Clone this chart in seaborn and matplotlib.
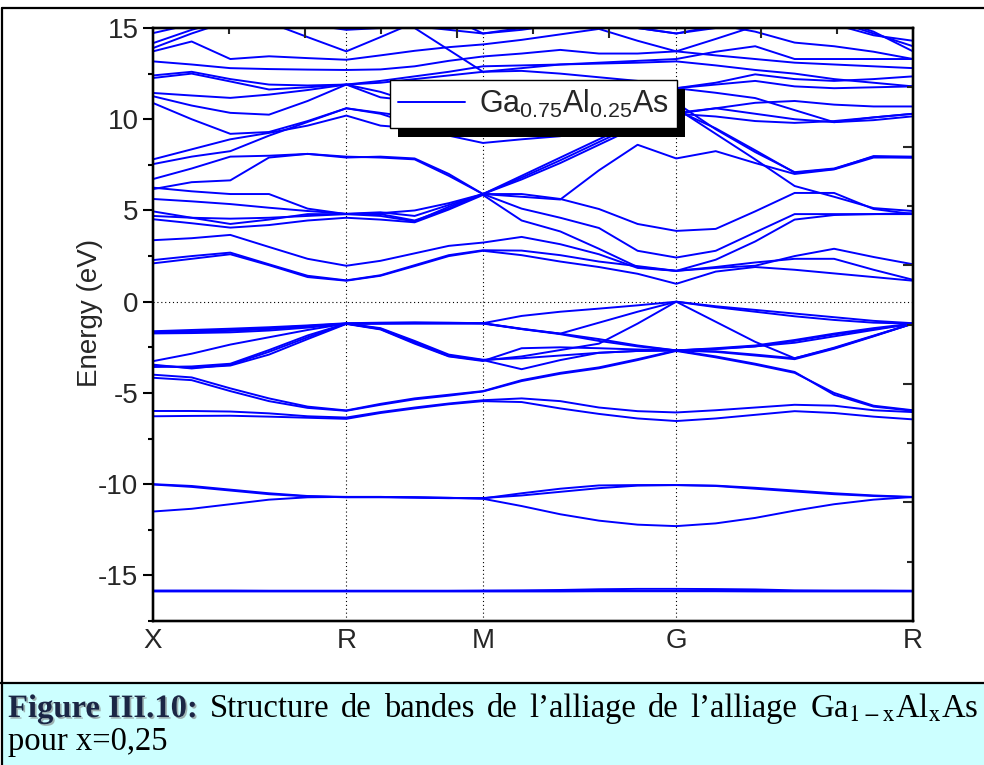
import numpy as np
import pandas as pd
import matplotlib
matplotlib.use("Agg")
import matplotlib.pyplot as plt
import matplotlib.patheffects as pe
from matplotlib.lines import Line2D
from matplotlib.patches import Rectangle
from matplotlib.ticker import MultipleLocator
import seaborn as sns

# ---- k-path through the simple-cubic Brillouin zone -------------------------
path_labels = ["X", "R", "M", "G", "R"]
path_coords = [(0.5, 0.0, 0.0), (0.5, 0.5, 0.5), (0.5, 0.5, 0.0),
               (0.0, 0.0, 0.0), (0.5, 0.5, 0.5)]
segment_steps = [5, 4, 5, 6]          # k-intervals on X-R, R-M, M-G, G-R

# ---- band energies (eV) at the 21 k-nodes ------------------------------------
# Ga 3d semicore states
ga_3d = [
    [-15.85, -15.85, -15.85, -15.85, -15.85, -15.85, -15.85, -15.85, -15.85, -15.85,
     -15.85, -15.85, -15.85, -15.85, -15.85, -15.85, -15.85, -15.85, -15.85, -15.85, -15.85],
    [-15.83, -15.83, -15.83, -15.84, -15.84, -15.84, -15.84, -15.84, -15.84, -15.83,
     -15.82, -15.80, -15.76, -15.74, -15.74, -15.75, -15.77, -15.82, -15.83, -15.83, -15.84],
    [-15.88, -15.88, -15.88, -15.88, -15.88, -15.88, -15.88, -15.88, -15.88, -15.88,
     -15.88, -15.88, -15.87, -15.87, -15.87, -15.87, -15.88, -15.88, -15.88, -15.88, -15.88],
]

# As 4s-like lower valence bands
as_4s = [
    [-11.50, -11.35, -11.10, -10.85, -10.72, -10.70, -10.70, -10.72, -10.75, -10.80,
     -11.20, -11.65, -12.00, -12.22, -12.30, -12.15, -11.85, -11.45, -11.10, -10.85, -10.70],
    [-10.00, -10.10, -10.30, -10.50, -10.65, -10.70, -10.70, -10.72, -10.75, -10.78,
     -10.50, -10.25, -10.07, -10.05, -10.05, -10.08, -10.20, -10.35, -10.50, -10.62, -10.70],
    [-10.02, -10.15, -10.35, -10.55, -10.67, -10.72, -10.72, -10.74, -10.77, -10.76,
     -10.62, -10.42, -10.22, -10.08, -10.05, -10.10, -10.25, -10.40, -10.55, -10.65, -10.72],
]

# p-like upper valence bands
valence_p = [
    [-1.62, -1.55, -1.48, -1.40, -1.30, -1.18, -1.15, -1.13, -1.15, -1.18,
     -0.78, -0.55, -0.38, -0.20, 0.00, -0.25, -0.45, -0.65, -0.85, -1.05, -1.18],
    [-1.66, -1.62, -1.55, -1.45, -1.33, -1.20, -1.18, -1.17, -1.17, -1.18,
     -1.50, -1.75, -1.15, -0.55, 0.00, -0.30, -0.55, -0.80, -1.00, -1.15, -1.20],
    [-1.70, -1.66, -1.60, -1.50, -1.36, -1.20, -1.20, -1.18, -1.18, -1.18,
     -1.48, -1.75, -2.05, -2.40, -2.67, -2.55, -2.40, -2.10, -1.75, -1.45, -1.20],
    [-1.74, -1.72, -1.68, -1.58, -1.42, -1.22, -1.20, -1.20, -1.20, -1.20,
     -1.50, -1.78, -2.15, -2.45, -2.67, -2.58, -2.45, -2.15, -1.80, -1.50, -1.22],
    [-3.26, -2.85, -2.35, -1.95, -1.55, -1.20, -1.48, -2.20, -2.95, -3.22,
     -3.00, -2.65, -2.30, -1.20, 0.00, -1.10, -2.20, -3.10, -2.55, -1.88, -1.20],
    [-3.45, -3.66, -3.45, -2.75, -1.95, -1.20, -1.50, -2.25, -2.98, -3.20,
     -3.70, -3.20, -2.80, -2.70, -2.67, -2.75, -2.95, -3.15, -2.58, -1.90, -1.20],
    [-3.50, -3.62, -3.50, -2.90, -2.05, -1.22, -1.52, -2.30, -3.00, -3.25,
     -2.55, -2.50, -2.55, -2.62, -2.67, -2.72, -2.90, -3.10, -2.52, -1.86, -1.20],
    [-3.58, -3.55, -3.40, -2.65, -1.85, -1.20, -1.45, -2.15, -2.90, -3.18,
     -3.10, -2.95, -2.80, -2.70, -2.67, -2.60, -2.45, -2.25, -1.90, -1.55, -1.20],
    [-4.00, -4.15, -4.75, -5.30, -5.75, -5.96, -5.60, -5.30, -5.10, -4.90,
     -4.30, -3.90, -3.60, -3.15, -2.67, -3.00, -3.40, -3.85, -5.10, -5.75, -5.98],
    [-4.17, -4.30, -4.90, -5.45, -5.82, -5.98, -5.65, -5.35, -5.15, -4.92,
     -4.35, -3.95, -3.65, -3.20, -2.70, -3.05, -3.45, -3.90, -5.00, -5.70, -5.95],
    [-5.99, -5.99, -6.02, -6.12, -6.28, -6.35, -6.05, -5.80, -5.58, -5.40,
     -5.30, -5.45, -5.80, -6.00, -6.07, -5.95, -5.80, -5.65, -5.70, -5.95, -6.05],
    [-6.28, -6.26, -6.25, -6.30, -6.36, -6.42, -6.10, -5.85, -5.62, -5.45,
     -5.50, -5.85, -6.15, -6.40, -6.54, -6.40, -6.20, -6.00, -6.10, -6.30, -6.45],
]

# conduction bands, lowest group
conduction_low = [
    [2.10, 2.35, 2.60, 2.00, 1.35, 1.15, 1.42, 1.95, 2.50, 2.79,
     2.55, 2.20, 1.90, 1.53, 0.98, 1.65, 1.90, 1.75, 1.55, 1.35, 1.15],
    [2.28, 2.50, 2.69, 2.05, 1.42, 1.17, 1.45, 2.00, 2.55, 2.82,
     2.80, 2.55, 2.20, 1.95, 1.69, 1.90, 2.15, 2.35, 2.35, 1.75, 1.20],
    [3.37, 3.48, 3.66, 3.00, 2.35, 1.97, 2.24, 2.65, 3.06, 3.24,
     3.55, 3.15, 2.60, 1.85, 1.69, 1.85, 1.97, 2.50, 2.90, 2.45, 2.05],
    [4.52, 4.30, 4.06, 4.20, 4.45, 4.60, 4.50, 4.35, 5.05, 5.85,
     4.45, 3.85, 2.90, 1.90, 1.69, 2.30, 3.30, 4.50, 4.75, 4.80, 4.85],
    [4.70, 4.60, 4.55, 4.60, 4.70, 4.80, 4.70, 4.40, 5.20, 5.90,
     5.10, 4.60, 4.04, 2.79, 2.42, 2.79, 3.80, 4.80, 4.80, 4.80, 4.80],
    [4.95, 4.60, 4.26, 4.50, 4.80, 4.80, 4.80, 4.45, 5.10, 5.90,
     5.90, 5.63, 5.08, 4.26, 3.88, 3.99, 4.95, 5.96, 5.96, 5.08, 4.80],
    [5.63, 5.50, 5.35, 5.15, 4.97, 4.82, 4.90, 4.70, 5.30, 5.90,
     6.70, 7.60, 8.60, 9.60, 10.50, 9.50, 8.30, 7.07, 7.27, 7.98, 7.95],
    [6.25, 6.05, 5.90, 5.90, 5.10, 4.80, 4.85, 5.00, 5.40, 5.90,
     6.80, 7.75, 8.75, 9.75, 10.60, 9.20, 7.80, 6.34, 5.75, 5.13, 4.97],
]

# conduction bands, middle group
conduction_mid = [
    [6.17, 6.55, 6.65, 7.90, 8.10, 7.95, 7.90, 7.80, 6.90, 5.90,
     5.75, 5.60, 7.20, 8.60, 7.85, 8.25, 7.60, 7.00, 7.25, 7.90, 7.90],
    [6.72, 7.30, 7.95, 8.00, 8.10, 7.90, 7.95, 7.85, 7.00, 5.90,
     6.90, 7.90, 8.90, 9.90, 10.90, 9.45, 8.20, 7.10, 7.30, 7.95, 7.90],
    [7.54, 7.95, 8.25, 9.10, 9.85, 10.60, 10.30, 9.70, 9.10, 8.70,
     8.90, 9.07, 9.85, 10.60, 10.30, 10.15, 9.90, 9.80, 9.90, 10.10, 10.30],
    [7.80, 8.35, 8.90, 9.25, 9.65, 10.20, 9.65, 9.50, 9.40, 9.50,
     9.70, 9.95, 10.15, 10.25, 10.30, 10.60, 10.30, 10.00, 9.84, 10.10, 10.30],
    [10.89, 10.00, 9.20, 9.30, 9.90, 10.60, 10.35, 10.10, 9.60, 9.20,
     9.50, 9.80, 10.10, 10.30, 10.35, 10.60, 10.90, 11.00, 10.80, 10.70, 10.70],
    [11.26, 10.75, 10.35, 10.25, 11.00, 11.90, 11.50, 10.90, 10.45, 10.05,
     10.40, 10.80, 11.20, 11.50, 11.70, 11.45, 11.16, 10.50, 9.84, 9.95, 10.16],
    [11.44, 11.30, 11.17, 11.35, 11.60, 11.90, 11.20, 11.00, 10.85, 10.70,
     11.00, 11.40, 11.70, 11.60, 11.70, 11.90, 12.10, 11.80, 11.70, 11.75, 11.80],
    [12.26, 12.50, 12.07, 11.63, 11.75, 11.90, 12.10, 12.35, 12.60, 12.90,
     12.95, 13.00, 13.05, 13.10, 13.17, 12.95, 12.70, 12.50, 12.20, 12.00, 11.80],
]

# conduction bands, upper group (partly above the plotted window)
conduction_high = [
    [13.17, 13.00, 12.80, 12.75, 12.72, 12.70, 12.73, 12.90, 13.20, 13.44,
     13.60, 13.80, 13.60, 13.60, 13.72, 13.50, 13.30, 13.10, 13.00, 12.90, 12.80],
    [13.72, 14.26, 13.30, 13.45, 13.35, 13.26, 13.50, 13.75, 13.95, 14.10,
     14.35, 14.65, 14.95, 14.30, 13.72, 14.40, 15.10, 15.60, 15.80, 15.90, 16.00],
    [13.90, 14.70, 15.40, 15.80, 16.10, 16.20, 16.20, 16.00, 15.60, 14.70,
     15.00, 15.40, 15.30, 15.00, 14.70, 15.10, 15.50, 15.60, 15.40, 14.70, 14.00],
    [14.17, 14.90, 15.50, 16.00, 16.30, 16.50, 16.50, 16.30, 15.80, 15.30,
     15.60, 15.80, 16.00, 15.60, 15.30, 15.20, 14.80, 14.20, 14.00, 13.70, 13.30],
    [14.72, 15.20, 15.80, 16.20, 16.40, 16.50, 16.00, 15.00, 13.80, 12.60,
     12.80, 13.00, 13.10, 13.20, 13.30, 13.70, 14.00, 13.30, 13.30, 13.30, 13.30],
    [16.80, 16.50, 16.00, 15.30, 14.50, 13.72, 14.50, 15.30, 15.90, 16.30,
     16.50, 16.50, 16.30, 16.00, 15.60, 15.80, 16.00, 16.00, 15.50, 14.80, 13.72],
    [12.40, 12.60, 12.20, 11.90, 11.85, 11.90, 12.00, 12.20, 12.40, 12.60,
     12.65, 12.50, 12.30, 12.10, 11.70, 12.00, 12.46, 12.20, 12.10, 12.20, 12.35],
    [15.50, 15.60, 15.70, 15.50, 15.20, 14.90, 15.00, 15.10, 14.90, 14.70,
     14.90, 15.20, 15.30, 15.00, 14.70, 15.00, 15.40, 15.60, 15.20, 14.60, 14.30],
]

legend_label = r"Ga$_{0.75}$Al$_{0.25}$As"
caption_lead = "Figure III.10:"
caption_words = ["Structure", "de", "bandes", "de", "l\u2019alliage", "de",
                 "l\u2019alliage", r"Ga$_{\mathrm{1-x}}$Al$_{\mathrm{x}}$As"]
caption_line2 = "pour x=0,25"

# ---- k coordinates of the nodes ----------------------------------------------
hs_k = [0.0]
for a, b in zip(path_coords[:-1], path_coords[1:]):
    hs_k.append(hs_k[-1] + float(np.linalg.norm(np.subtract(b, a))))
k_nodes = [hs_k[0]]
for i, n in enumerate(segment_steps):
    k_nodes.extend(np.linspace(hs_k[i], hs_k[i + 1], n + 1)[1:])
k_nodes = np.asarray(k_nodes)

all_bands = ga_3d + as_4s + valence_p + conduction_low + conduction_mid + conduction_high
records = []
for b, energies in enumerate(all_bands):
    for k, e in zip(k_nodes, energies):
        records.append((b, k, e))
bands_df = pd.DataFrame(records, columns=["band", "k", "energy"])

# ---- styling -----------------------------------------------------------------
sns.set_theme(style="ticks")
plt.rcParams["font.family"] = ["Liberation Sans", "DejaVu Sans"]
plt.rcParams["mathtext.fontset"] = "custom"
plt.rcParams["mathtext.rm"] = "Liberation Sans"
plt.rcParams["mathtext.it"] = "Liberation Sans:italic"
plt.rcParams["mathtext.bf"] = "Liberation Sans:bold"
plt.rcParams["axes.unicode_minus"] = False

W, H = 984, 765
fig = plt.figure(figsize=(W / 100, H / 100), dpi=100)
fig.patch.set_facecolor("white")

ax = fig.add_axes([153 / W, 1 - 621 / H, 760 / W, 593 / H])
band_color = "#0000ff"
sns.lineplot(data=bands_df, x="k", y="energy", units="band", estimator=None,
             sort=False, color=band_color, linewidth=1.4, ax=ax, legend=False)

ax.set_xlim(hs_k[0], hs_k[-1])
ax.set_ylim(-17.5, 15)
for kx in hs_k[1:-1]:
    ax.axvline(kx, color="black", linestyle=(0, (1, 2.5)), linewidth=0.8, zorder=0)
ax.axhline(0, color="black", linestyle=(0, (1, 2.5)), linewidth=0.8, zorder=0)

ax.set_xticks(hs_k)
ax.set_xticklabels(path_labels)
ax.yaxis.set_major_locator(MultipleLocator(5))
ax.yaxis.set_minor_locator(MultipleLocator(2.5))
ax.tick_params(axis="y", which="major", direction="out", length=7.5, width=1.5,
               labelsize=20, pad=3, left=True, right=False, color="black")
ax.tick_params(axis="y", which="minor", direction="out", length=3.8, width=1.5,
               left=True, right=False, color="black")
ax.tick_params(axis="x", which="both", length=0, labelsize=20, pad=5)
ax.set_xlabel("")
ax.set_ylabel("Energy (eV)", fontsize=20)
ax.yaxis.set_label_coords(-0.066, 0.52)
for s in ax.spines.values():
    s.set_linewidth(1.6)
    s.set_color("black")
    s.set_visible(True)

# opposite axes carry evenly spaced inward ticks
top = ax.twiny()
top.set_xlim(0, 1)
top.set_xticks([0.2, 0.4, 0.6, 0.8])
top.set_xticks([0.1, 0.3, 0.5, 0.7, 0.9], minor=True)
top.tick_params(axis="x", which="major", direction="in", length=7.5, width=1.5,
                top=True, bottom=False, labeltop=False, labelbottom=False)
top.tick_params(axis="x", which="minor", direction="in", length=4, width=1.5,
                top=True, bottom=False)
right = ax.twinx()
right.set_ylim(0, 1)
right.set_yticks([0.2, 0.4, 0.6, 0.8])
right.set_yticks([0.1, 0.3, 0.5, 0.7, 0.9], minor=True)
right.tick_params(axis="y", which="major", direction="in", length=7.5, width=1.5,
                  right=True, left=False, labelright=False, labelleft=False)
right.tick_params(axis="y", which="minor", direction="in", length=4, width=1.5,
                  right=True, left=False)
for tw in (top, right):
    for s in tw.spines.values():
        s.set_linewidth(1.6)
        s.set_color("black")

# legend with a solid drop shadow
handle = Line2D([], [], color=band_color, linewidth=1.4)
leg = right.legend([handle], [legend_label], loc="upper left",
                   bbox_to_anchor=(0.312, 0.912), bbox_transform=ax.transAxes,
                   frameon=True, fancybox=False, framealpha=1, edgecolor="black",
                   fontsize=22, handlelength=2.2, handletextpad=0.45,
                   borderpad=0.26, borderaxespad=0)
leg.get_frame().set_linewidth(1.0)
leg.get_frame().set_path_effects([
    pe.withSimplePatchShadow(offset=(6, -6), shadow_rgbFace="black", alpha=1.0)])

# ---- caption panel ------------------------------------------------------------
cap_top = 683
fig.patches.append(Rectangle((2 / W, 0), 1 - 2 / W, (H - cap_top) / H,
                             transform=fig.transFigure, facecolor="#ccffff",
                             edgecolor="none", zorder=0))
fig.lines.append(Line2D([0, 1], [1 - cap_top / H] * 2, transform=fig.transFigure,
                        color="black", linewidth=1.6))
fig.lines.append(Line2D([2 / W, 2 / W], [0, 1 - 8 / H], transform=fig.transFigure,
                        color="black", linewidth=1.6))
fig.lines.append(Line2D([2 / W, 1], [1 - 8 / H] * 2, transform=fig.transFigure,
                        color="black", linewidth=1.6))

cap_size = 23.5
base1 = 1 - 717 / H
base2 = 1 - 750 / H
serif = ["Liberation Serif", "DejaVu Serif"]
renderer = fig.canvas.get_renderer()

lead = fig.text(8 / W, base1, caption_lead, fontfamily=serif, fontweight="bold",
                fontsize=cap_size, color="#1b2645", va="baseline",
                path_effects=[pe.withSimplePatchShadow(offset=(1.2, -1.2),
                                                       shadow_rgbFace="#7f7f7f",
                                                       alpha=0.6)])
word_texts = [fig.text(0, base1, w, fontfamily=serif, fontsize=cap_size,
                       color="black", va="baseline", math_fontfamily="stix")
              for w in caption_words]
lead_w = lead.get_window_extent(renderer).width
widths = [t.get_window_extent(renderer).width for t in word_texts]
left_px, right_px = 8, 978
gap = (right_px - left_px - lead_w - sum(widths)) / len(word_texts)
x = left_px + lead_w
for t, w in zip(word_texts, widths):
    x += gap
    t.set_x(x / W)
    x += w
fig.text(8 / W, base2, caption_line2, fontfamily=serif, fontsize=cap_size,
         color="black", va="baseline")

fig.savefig("out.png", dpi=100, facecolor="white")
